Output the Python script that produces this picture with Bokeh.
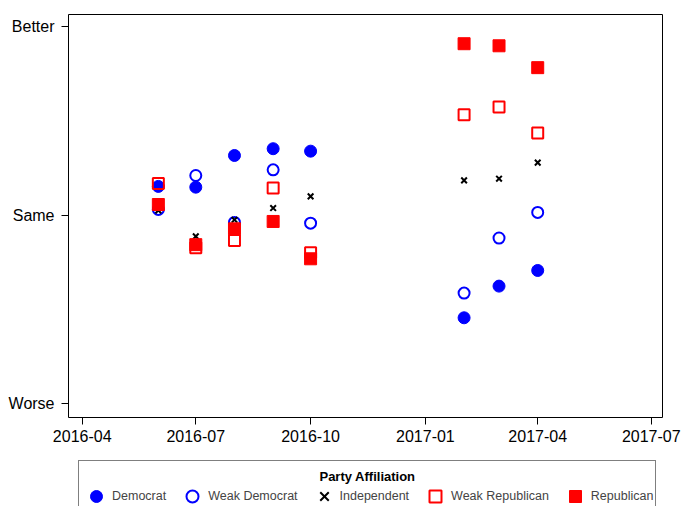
from datetime import datetime
from bokeh.plotting import figure
from bokeh.layouts import column
from bokeh.models import (Range1d, FixedTicker, DatetimeTickFormatter, Legend, LegendItem, Label)
from bokeh.embed import file_html
from bokeh.resources import INLINE

# ---- data ----
dates = ["2016-06-01", "2016-07-01", "2016-08-01", "2016-09-01", "2016-10-01",
         "2017-02-01", "2017-03-01", "2017-04-01"]
democrat = [0.154, 0.150, 0.318, 0.354, 0.341, -0.543, -0.375, -0.292]
weak_democrat = [0.032, 0.212, -0.037, 0.242, -0.041, -0.412, -0.120, 0.016]
independent = [0.027, -0.111, -0.023, 0.039, 0.101, 0.186, 0.195, 0.280]
weak_republican = [0.170, -0.171, -0.133, 0.145, -0.198, 0.534, 0.575, 0.437]
republican = [0.058, -0.155, -0.071, -0.032, -0.230, 0.911, 0.900, 0.784]

y_tick_values = [-1, 0, 1]
y_tick_labels = ["Worse", "Same", "Better"]
x_tick_dates = ["2016-04-01", "2016-07-01", "2016-10-01", "2017-01-01",
                "2017-04-01", "2017-07-01"]
series_names = ["Democrat", "Weak Democrat", "Independent", "Weak Republican", "Republican"]
legend_title = "Party Affiliation"

FONT = "Liberation Sans"
BLUE = "#0000FF"
RED = "#FF0000"

def to_dt(s):
    return datetime.strptime(s, "%Y-%m-%d")

def to_ms(s):
    return (to_dt(s) - datetime(1970, 1, 1)).total_seconds() * 1000.0

xs = [to_dt(d) for d in dates]

BL, BR = 68, 19

p = figure(width=681, height=450, x_axis_type="datetime",
           output_backend="svg", toolbar_location=None,
           x_range=Range1d(to_dt("2016-03-21"), to_dt("2017-07-10")),
           y_range=Range1d(-1.072, 1.066),
           min_border_left=BL, min_border_right=BR, min_border_top=14, min_border_bottom=33)

p.background_fill_color = "white"
p.border_fill_color = "white"
p.outline_line_color = "black"
p.outline_line_width = 1
p.xgrid.visible = False
p.ygrid.visible = False

p.xaxis.ticker = FixedTicker(ticks=[to_ms(d) for d in x_tick_dates])
fmt = "%Y-%m"
p.xaxis.formatter = DatetimeTickFormatter(years=fmt, months=fmt, days=fmt, hours=fmt,
                                          minutes=fmt, seconds=fmt, milliseconds=fmt,
                                          microseconds=fmt, hourmin=fmt, minsec=fmt)
p.yaxis.ticker = FixedTicker(ticks=y_tick_values)
p.yaxis.major_label_overrides = {v: l for v, l in zip(y_tick_values, y_tick_labels)}
for ax in (p.xaxis[0], p.yaxis[0]):
    ax.axis_line_color = None
    ax.major_tick_in = 0
    ax.major_tick_out = 7
    ax.minor_tick_line_color = None
    ax.major_tick_line_color = "black"
    ax.major_label_text_font = FONT
    ax.major_label_text_font_size = "16px"
    ax.major_label_text_color = "black"
p.xaxis.major_label_standoff = 5
p.yaxis.major_label_standoff = 7

styles = [
    dict(marker="circle", size=12, fill_color=BLUE, line_color=BLUE, line_width=1),
    dict(marker="circle", size=11, fill_color=None, line_color=BLUE, line_width=2),
    dict(marker="x", size=8, line_color="black", line_width=2),
    dict(marker="square", size=11, fill_color=None, line_color=RED, line_width=2),
    dict(marker="square", size=12, fill_color=RED, line_color=RED, line_width=1),
]
series = [democrat, weak_democrat, independent, weak_republican, republican]
for vals, st in zip(series, styles):
    p.scatter(xs, vals, **st)

# ---- legend strip below the chart (same frame borders so the column keeps alignment) ----
lg = figure(width=681, height=56, output_backend="svg", toolbar_location=None,
            x_axis_location=None, y_axis_location=None,
            x_range=Range1d(0, 1), y_range=Range1d(0, 1),
            min_border_left=BL, min_border_right=BR, min_border_top=0, min_border_bottom=0)
lg.outline_line_color = None
lg.background_fill_color = "white"
lg.xgrid.visible = False
lg.ygrid.visible = False
# the same series, drawn in this strip's frame only for their legend glyphs (they fall outside its range)
legend_renderers = [lg.scatter(xs, vals, **st) for vals, st in zip(series, styles)]
items = [LegendItem(label=n, renderers=[r]) for n, r in zip(series_names, legend_renderers)]
legend = Legend(items=items, orientation="horizontal", location="top_left",
                title=" ", title_text_font=FONT, title_text_font_style="bold",
                title_text_font_size="12px", title_standoff=4,
                label_text_font=FONT, label_text_font_size="12.5px",
                glyph_width=30, glyph_height=30, label_standoff=1, spacing=11,
                padding=2, margin=10,
                border_line_color="black", border_line_width=1,
                background_fill_color=None)
lg.add_layout(legend, "center")
lg.add_layout(Label(x=299, y=30, x_units="screen", y_units="screen", text=legend_title,
                    text_align="center", text_baseline="middle", text_font=FONT,
                    text_font_style="bold", text_font_size="13px", text_color="black"))

layout = column(p, lg, spacing=0)
open("out.html", "w").write(file_html(layout, INLINE))
